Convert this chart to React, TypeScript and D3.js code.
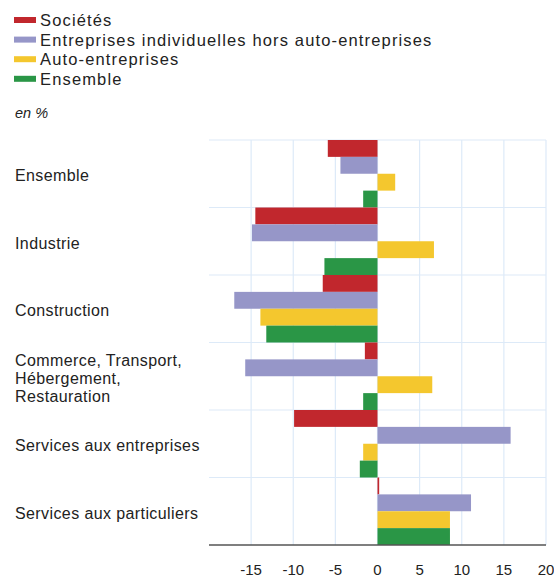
import React from "react";
import * as d3 from "d3";

const categories = [
  "Ensemble",
  "Industrie",
  "Construction",
  "Commerce, Transport,|Hébergement,|Restauration",
  "Services aux entreprises",
  "Services aux particuliers",
];
const seriesNames = [
  "Sociétés",
  "Entreprises individuelles hors auto-entreprises",
  "Auto-entreprises",
  "Ensemble",
];
const seriesColors = ["#C1272D", "#9696C8", "#F4C72E", "#2A9646"];
const societes = [-5.9, -14.5, -6.5, -1.5, -9.9, 0.2];
const entIndiv = [-4.4, -14.9, -17.0, -15.7, 15.8, 11.1];
const autoEnt = [2.1, 6.7, -13.9, 6.5, -1.7, 8.6];
const ensemble = [-1.7, -6.3, -13.2, -1.7, -2.1, 8.6];
const seriesValues = [societes, entIndiv, autoEnt, ensemble];
const tickValues = [-15, -10, -5, 0, 5, 10, 15, 20];

const FONT = "'Liberation Sans', Arial, sans-serif";

export default function App() {
  const x = d3.scaleLinear().domain([-20, 20]).range([209, 546]);
  const y = d3.scaleBand<string>().domain(categories).range([140, 545]).padding(0);
  const inner = d3
    .scaleBand<number>()
    .domain(d3.range(seriesNames.length))
    .range([0, y.bandwidth()])
    .padding(0);

  return (
    <svg
      width={554}
      height={581}
      style={{ position: "absolute", left: 0, top: 0, background: "#fff" }}
      fontFamily={FONT}
    >
      {/* legend */}
      {seriesNames.map((s, i) => (
        <g key={s} transform={`translate(14, ${20 + i * 19.6})`}>
          <rect x={0} y={-3} width={22} height={6} fill={seriesColors[i]} />
          <text x={26} y={0} dy="0.36em" fontSize={16.5} letterSpacing={1.15} fill="#222">
            {s}
          </text>
        </g>
      ))}
      <text x={15} y={118} fontSize={14.5} fontStyle="italic" fill="#222">
        en %
      </text>

      {/* grid */}
      {tickValues.map((t) => (
        <line key={"v" + t} x1={x(t)} x2={x(t)} y1={140} y2={545} stroke="#DDEAF8" strokeWidth={1.2} />
      ))}
      {categories.map((c) => (
        <line key={"h" + c} x1={209} x2={546} y1={y(c)!} y2={y(c)!} stroke="#DDEAF8" strokeWidth={1.2} />
      ))}

      {/* bars */}
      {categories.map((c, ci) =>
        seriesValues.map((vals, si) => {
          const v = vals[ci];
          const x0 = x(Math.min(0, v));
          const x1 = x(Math.max(0, v));
          return (
            <rect
              key={c + si}
              x={x0}
              y={y(c)! + inner(si)!}
              width={Math.max(0.8, x1 - x0)}
              height={inner.bandwidth()}
              fill={seriesColors[si]}
            />
          );
        })
      )}

      {/* category labels */}
      {categories.map((c) => {
        const lines = c.split("|");
        const cy = y(c)! + y.bandwidth() / 2 + 2;
        const lh = 18;
        return (
          <text key={"l" + c} x={15} fontSize={16} letterSpacing={0.4} fill="#222">
            {lines.map((ln, k) => (
              <tspan key={k} x={15} y={cy + (k - (lines.length - 1) / 2) * lh} dy="0.35em">
                {ln}
              </tspan>
            ))}
          </text>
        );
      })}

      {/* axis */}
      <line x1={209} x2={546} y1={545} y2={545} stroke="#555" strokeWidth={1.5} />
      {tickValues.map((t) => (
        <text key={"t" + t} x={x(t)} y={575} textAnchor="middle" fontSize={15} fill="#222">
          {t}
        </text>
      ))}
    </svg>
  );
}
